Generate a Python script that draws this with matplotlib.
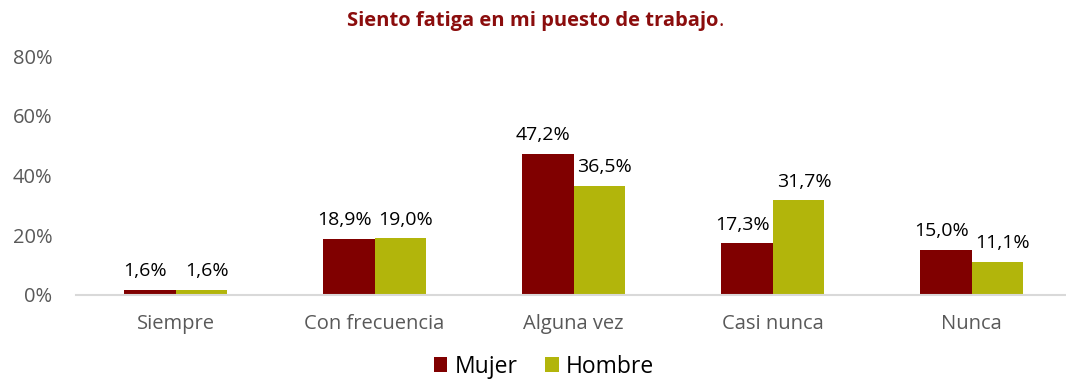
import numpy as np
import matplotlib
matplotlib.use('Agg')
from matplotlib import pyplot as plt
from matplotlib.ticker import FuncFormatter

categorias = ['Siempre', 'Con frecuencia', 'Alguna vez', 'Casi nunca', 'Nunca']
mujer = [1.6, 18.9, 47.2, 17.3, 15.0]
hombre = [1.6, 19.0, 36.5, 31.7, 11.1]
yticks = [0, 20, 40, 60, 80]

plt.rcParams['font.family'] = ['Open Sans', 'DejaVu Sans']

col_m = '#800000'
col_h = '#B2B50B'
gris = '#595959'
rojo = '#8B0D0D'

fig = plt.figure(figsize=(10.66, 3.8), dpi=100)
ax = fig.add_axes([76/1066, 85/380, 990/1066, 239/380])

x = np.arange(len(categorias))
w = 0.26
b1 = ax.bar(x - w/2, mujer, w, color=col_m, label='Mujer')
b2 = ax.bar(x + w/2, hombre, w, color=col_h, label='Hombre')

# etiquetas de valor, algo separadas hacia fuera de cada par
for bars, vals, dx in ((b1, mujer, -3), (b2, hombre, 4)):
    for r, v in zip(bars, vals):
        ax.annotate(f'{v:.1f}%'.replace('.', ','), (r.get_x() + r.get_width()/2, v),
                    xytext=(dx, 7), textcoords='offset points',
                    ha='center', va='bottom', fontsize=14, color='black')

ax.set_xlim(-0.5, 4.5 - 5/199)
ax.set_ylim(0, 80)
ax.set_yticks(yticks)
ax.yaxis.set_major_formatter(FuncFormatter(lambda v, p: f'{v:.0f}%'))
ax.set_xticks(x)
ax.set_xticklabels(categorias)
ax.tick_params(axis='both', length=0, labelsize=14.5, colors=gris)
ax.tick_params(axis='x', pad=14)
ax.tick_params(axis='y', pad=17)
for s in ('top', 'right', 'left'):
    ax.spines[s].set_visible(False)
ax.spines['bottom'].set_color('#D9D9D9')
ax.spines['bottom'].set_linewidth(1.5)

# título en negrita, punto final sin negrita
t = fig.text(0.5, 0.945, 'Siento fatiga en mi puesto de trabajo', ha='center', va='center',
             fontsize=14.5, fontweight='bold', color=rojo)
fig.canvas.draw()
bb = t.get_window_extent()
fig.text(bb.x1 / fig.bbox.width, 0.945, '.', ha='left', va='center',
         fontsize=14.5, color=rojo)

fig.legend(loc='center', bbox_to_anchor=(0.51, 0.035), ncol=2, frameon=False,
           fontsize=16.5, handlelength=0.6, handleheight=0.6, handletextpad=0.3,
           columnspacing=1.2)

fig.savefig('out.png', dpi=100)
